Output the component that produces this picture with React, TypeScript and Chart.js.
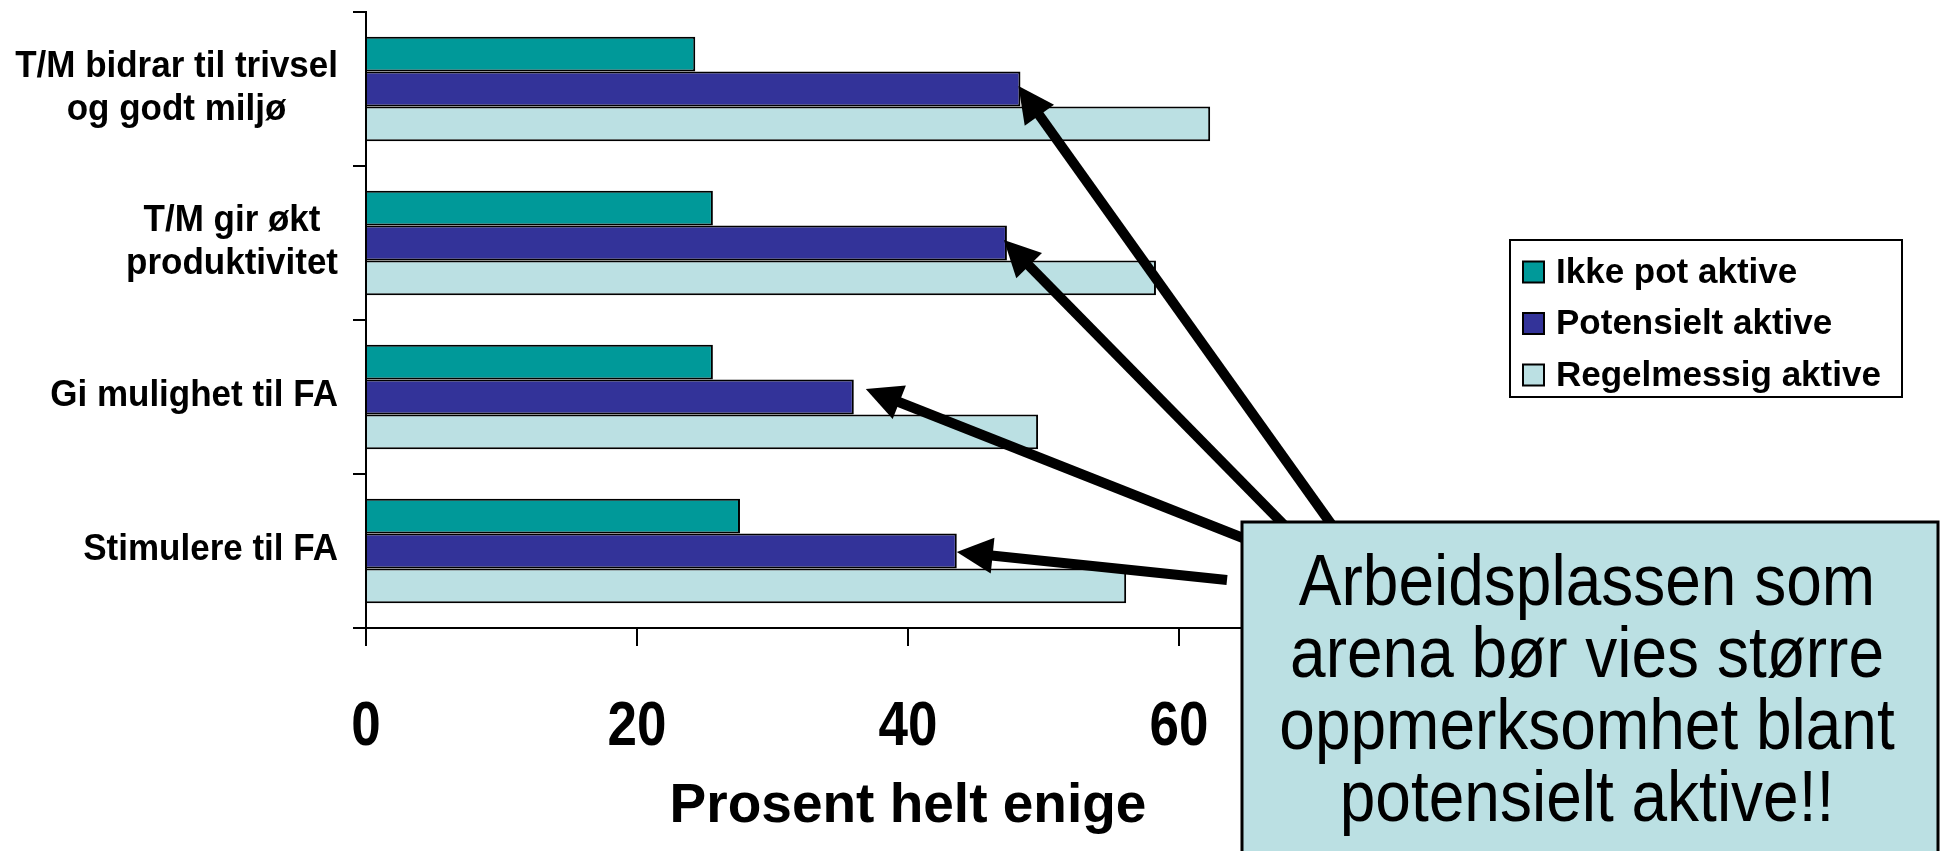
import React, { useEffect, useRef } from "react";
import { Chart, registerables } from "chart.js";

Chart.register(...registerables);

// ---- data ----
const categoryLines: string[][] = [
  ["T/M bidrar til trivsel", "og godt miljø"],
  ["T/M gir økt", "produktivitet"],
  ["Gi mulighet til FA"],
  ["Stimulere til FA"],
];
const seriesNames = ["Ikke pot aktive", "Potensielt aktive", "Regelmessig aktive"];
const ikkePotAktive = [24.3, 25.6, 25.6, 27.6];
const potensieltAktive = [48.3, 47.3, 36.0, 43.6];
const regelmessigAktive = [62.3, 58.3, 49.6, 56.1];
const xTickValues = [0, 20, 40, 60, 80];
const axisTitle = "Prosent helt enige";
const calloutLines = [
  "Arbeidsplassen som",
  "arena bør vies større",
  "oppmerksomhet blant",
  "potensielt aktive!!",
];

// ---- styles / layout ----
const FONT = "'Liberation Sans', Arial, Helvetica, sans-serif";
const seriesColors = ["#009999", "#333399", "#BBE0E3"];
const W = 1948;
const H = 851;
const BOX = { x: 1242, y: 522, w: 696, h: 340 };
const LEGEND = { x: 1510, y: 240, w: 392, h: 157 };
// arrow tails (on the callout) and small tip offsets from the bar ends
const arrowTails: [number, number][] = [
  [1334, 528],
  [1287, 528],
  [1248, 540],
  [1227, 580],
];
const tipOffsets: [number, number][] = [
  [-2, -3],
  [-3, -3],
  [12, -8],
  [0, 1],
];

function drawArrow(ctx: CanvasRenderingContext2D, sx: number, sy: number, tx: number, ty: number) {
  const dx = tx - sx;
  const dy = ty - sy;
  const len = Math.hypot(dx, dy);
  const ux = dx / len;
  const uy = dy / len;
  const headLen = 36;
  const headHalf = 18;
  const bx = tx - ux * headLen;
  const by = ty - uy * headLen;
  ctx.strokeStyle = "#000";
  ctx.fillStyle = "#000";
  ctx.lineWidth = 10;
  ctx.lineCap = "butt";
  ctx.beginPath();
  ctx.moveTo(sx, sy);
  ctx.lineTo(tx - ux * (headLen - 6), ty - uy * (headLen - 6));
  ctx.stroke();
  ctx.beginPath();
  ctx.moveTo(tx, ty);
  ctx.lineTo(bx - uy * headHalf, by + ux * headHalf);
  ctx.lineTo(bx + uy * headHalf, by - ux * headHalf);
  ctx.closePath();
  ctx.fill();
}

// text drawn with a slight vertical stretch, like the original slide
function stretchedText(
  ctx: CanvasRenderingContext2D,
  text: string,
  x: number,
  y: number,
  sy: number
) {
  ctx.save();
  ctx.translate(x, y);
  ctx.scale(1, sy);
  ctx.fillText(text, 0, 0);
  ctx.restore();
}

const overlayPlugin = {
  id: "overlay",
  afterDraw(chart: any) {
    const ctx: CanvasRenderingContext2D = chart.ctx;
    const yScale = chart.scales.y;
    const xScale = chart.scales.x;
    ctx.save();

    // category labels (right-aligned blocks, centred lines)
    ctx.fillStyle = "#000";
    ctx.font = `bold 35px ${FONT}`;
    ctx.textAlign = "center";
    ctx.textBaseline = "middle";
    const labelRight = yScale.right - 28;
    categoryLines.forEach((lines, i) => {
      const cy = yScale.getPixelForValue(i) - 1;
      const w = Math.max(...lines.map((l) => ctx.measureText(l).width));
      const cx = labelRight - w / 2;
      lines.forEach((l, j) => {
        stretchedText(ctx, l, cx, cy + (j - (lines.length - 1) / 2) * 43, 1.08);
      });
    });

    // x tick labels
    ctx.font = `bold 53px ${FONT}`;
    ctx.textAlign = "center";
    ctx.textBaseline = "alphabetic";
    xTickValues.forEach((v) => {
      const x = xScale.getPixelForValue(v);
      stretchedText(ctx, String(v), x, 722 + 0.358 * 53 * 1.2, 1.2);
    });

    // arrows to the "potensielt aktive" bars
    const meta = chart.getDatasetMeta(1);
    arrowTails.forEach(([sx, sy], i) => {
      const bar = meta.data[i];
      drawArrow(ctx, sx, sy, bar.x + tipOffsets[i][0], bar.y + tipOffsets[i][1]);
    });

    // callout box
    ctx.fillStyle = "#BBE0E3";
    ctx.fillRect(BOX.x, BOX.y, BOX.w, BOX.h);
    ctx.strokeStyle = "#000";
    ctx.lineWidth = 3;
    ctx.strokeRect(BOX.x, BOX.y, BOX.w, BOX.h);
    ctx.fillStyle = "#000";
    ctx.font = `64px ${FONT}`;
    ctx.textAlign = "center";
    ctx.textBaseline = "alphabetic";
    calloutLines.forEach((l, i) => {
      stretchedText(ctx, l, BOX.x + BOX.w / 2 - 3, 605 + i * 72, 1.13);
    });

    // legend
    ctx.fillStyle = "#fff";
    ctx.fillRect(LEGEND.x, LEGEND.y, LEGEND.w, LEGEND.h);
    ctx.lineWidth = 2;
    ctx.strokeStyle = "#000";
    ctx.strokeRect(LEGEND.x, LEGEND.y, LEGEND.w, LEGEND.h);
    ctx.font = `bold 35px ${FONT}`;
    ctx.textAlign = "left";
    ctx.textBaseline = "middle";
    chart.data.datasets.forEach((ds: any, i: number) => {
      const cy = LEGEND.y + 32 + i * 51.5;
      ctx.fillStyle = ds.backgroundColor;
      ctx.fillRect(1523, cy - 10.5, 21, 21);
      ctx.strokeRect(1523, cy - 10.5, 21, 21);
      ctx.fillStyle = "#000";
      ctx.fillText(ds.label, 1556, cy + 1);
    });

    ctx.restore();
  },
};

export default function App() {
  const canvasRef = useRef<HTMLCanvasElement | null>(null);

  useEffect(() => {
    if (!canvasRef.current) return;
    const values = [ikkePotAktive, potensieltAktive, regelmessigAktive];
    const chart = new Chart(canvasRef.current, {
      type: "bar",
      data: {
        labels: categoryLines.map((l) => l.join(" ")),
        datasets: seriesNames.map((name, i) => ({
          label: name,
          data: values[i],
          backgroundColor: seriesColors[i],
          borderColor: "#000",
          borderWidth: 2,
          categoryPercentage: 0.68,
          barPercentage: 1.0,
        })),
      },
      options: {
        animation: false,
        responsive: true,
        maintainAspectRatio: false,
        indexAxis: "y",
        layout: { padding: { top: 12, right: 498, left: 0, bottom: 0 } },
        plugins: {
          legend: { display: false },
          tooltip: { enabled: false },
          title: { display: false },
        },
        scales: {
          x: {
            type: "linear",
            position: "bottom",
            min: 0,
            max: 80,
            afterBuildTicks: (s: any) => {
              s.ticks = xTickValues.map((v) => ({ value: v }));
            },
            ticks: { display: false },
            grid: {
              display: true,
              drawOnChartArea: false,
              drawTicks: true,
              tickLength: 18,
              color: "#000",
              lineWidth: 2,
            },
            border: { display: true, color: "#000", width: 2 },
            title: {
              display: true,
              text: axisTitle,
              color: "#000",
              font: { family: FONT, size: 55, weight: "bold" },
              padding: { top: 0, bottom: 11 },
            },
            afterFit: (s: any) => {
              s.height = 223;
            },
          },
          y: {
            type: "category",
            position: "left",
            offset: true,
            ticks: { display: false },
            grid: {
              display: true,
              offset: true,
              drawOnChartArea: false,
              drawTicks: true,
              tickLength: 13,
              color: "#000",
              lineWidth: 2,
            },
            border: { display: true, color: "#000", width: 2 },
            afterFit: (s: any) => {
              s.width = 366;
            },
          },
        },
      } as any,
      plugins: [overlayPlugin],
    });
    return () => chart.destroy();
  }, []);

  return (
    <div style={{ position: "absolute", left: 0, top: 0, width: W, height: H, background: "#fff" }}>
      <canvas ref={canvasRef} />
    </div>
  );
}
